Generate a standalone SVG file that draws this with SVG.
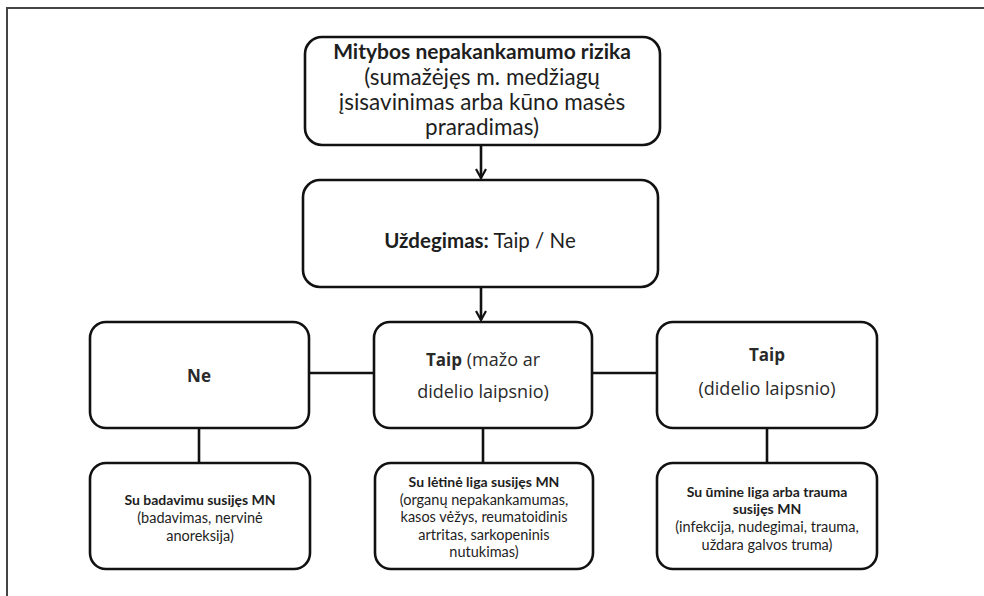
<svg xmlns="http://www.w3.org/2000/svg" width="984" height="596" viewBox="0 0 984 596">
  <defs>
    <marker id="arrow" viewBox="0 0 12 12" refX="10" refY="6" markerWidth="12" markerHeight="12" markerUnits="userSpaceOnUse" orient="auto">
      <path d="M1,1 L10,6 L1,11" fill="none" stroke="#111" stroke-width="2.2"/>
    </marker>
  </defs>
  <style>
    .box { fill: #ffffff; stroke: #111; stroke-width: 2.6; }
    .link { stroke: #111; stroke-width: 2.6; fill: none; }
    .t { font-family: Lato, "Open Sans", "Liberation Sans", sans-serif; fill: #1e1e1e; text-anchor: middle; }
    .m { font-family: "Open Sans", "Noto Sans", "Liberation Sans", sans-serif; fill: #2a2a2a; text-anchor: middle; }
    .b { font-weight: bold; }
    .head { font-size: 21px; }
    .big { font-size: 22.5px; }
    .cond { font-size: 20.5px; }
    .mid { font-size: 18px; }
    .midb { font-size: 17px; font-weight: bold; }
    .small { font-size: 14.5px; }
    .smallb { font-size: 14px; font-weight: bold; }
  </style>

  <rect width="984" height="596" fill="#ffffff"/>
  <!-- page frame -->
  <path d="M7,596 L7,8 L984,8" fill="none" stroke="#444" stroke-width="2"/>

  <g id="connectors">
    <line class="link" x1="481" y1="145" x2="481" y2="178" marker-end="url(#arrow)"/>
    <line class="link" x1="481" y1="287" x2="481" y2="320" marker-end="url(#arrow)"/>
    <line class="link" x1="309" y1="373" x2="374" y2="373"/>
    <line class="link" x1="592" y1="373" x2="657" y2="373"/>
    <line class="link" x1="199" y1="428" x2="199" y2="463"/>
    <line class="link" x1="483" y1="428" x2="483" y2="463"/>
    <line class="link" x1="767" y1="428" x2="767" y2="463"/>
  </g>

  <g id="risk">
    <rect class="box" x="305" y="37" width="355" height="108" rx="17"/>
    <text class="t head b" x="482" y="59">Mitybos nepakankamumo rizika</text>
    <text class="t big" x="482" y="85">(sumažėjęs m. medžiagų</text>
    <text class="t big" x="482" y="110">įsisavinimas arba kūno masės</text>
    <text class="t big" x="482" y="135">praradimas)</text>
  </g>

  <g id="inflammation">
    <rect class="box" x="303" y="180" width="355" height="107" rx="17"/>
    <text class="t cond" x="480" y="248"><tspan class="b">Uždegimas:</tspan> Taip / Ne</text>
  </g>

  <g id="no">
    <rect class="box" x="90" y="322" width="219" height="106" rx="16"/>
    <text class="m midb" x="199" y="382">Ne</text>
  </g>

  <g id="yes-mild">
    <rect class="box" x="374" y="322" width="218" height="106" rx="16"/>
    <text class="m mid" x="483" y="366"><tspan class="midb">Taip</tspan> (mažo ar</text>
    <text class="m mid" x="483" y="398">didelio laipsnio)</text>
  </g>

  <g id="yes-severe">
    <rect class="box" x="657" y="322" width="220" height="106" rx="16"/>
    <text class="m midb" x="767" y="361">Taip</text>
    <text class="m mid" x="767" y="395">(didelio laipsnio)</text>
  </g>

  <g id="starvation">
    <rect class="box" x="90" y="463" width="220" height="106" rx="16"/>
    <text class="t smallb" x="200" y="505">Su badavimu susijęs MN</text>
    <text class="t small" x="200" y="523">(badavimas, nervinė</text>
    <text class="t small" x="200" y="541">anoreksija)</text>
  </g>

  <g id="chronic">
    <rect class="box" x="375" y="463" width="218" height="106" rx="16"/>
    <text class="t smallb" x="484" y="487">Su lėtinė liga susijęs MN</text>
    <text class="t small" x="484" y="505">(organų nepakankamumas,</text>
    <text class="t small" x="484" y="522">kasos vėžys, reumatoidinis</text>
    <text class="t small" x="484" y="540">artritas, sarkopeninis</text>
    <text class="t small" x="484" y="557">nutukimas)</text>
  </g>

  <g id="acute">
    <rect class="box" x="657" y="463" width="220" height="106" rx="16"/>
    <text class="t smallb" x="767" y="497">Su ūmine liga arba trauma</text>
    <text class="t smallb" x="767" y="514">susijęs MN</text>
    <text class="t small" x="767" y="532">(infekcija, nudegimai, trauma,</text>
    <text class="t small" x="767" y="550">uždara galvos truma)</text>
  </g>
</svg>
